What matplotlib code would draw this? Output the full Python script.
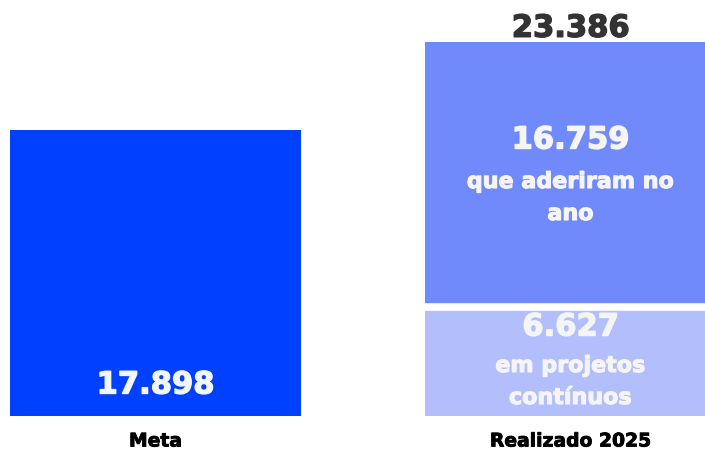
import matplotlib.pyplot as plt
import matplotlib.patheffects as pe

categorias = ['Meta', 'Realizado 2025']
meta = 17898
continuos = 6627
aderiram = 16759
total = continuos + aderiram

def fmt(v):
    return f'{v:,}'.replace(',', '.')

plt.rcParams['font.family'] = ['DejaVu Sans']

fig = plt.figure(figsize=(7.05, 4.53), dpi=100)
ax = fig.add_axes([0, 0, 1, 1])

w = 0.7
ax.bar(0, meta, width=w, color='#0040ff')
ax.bar(1, continuos, width=w, color='#b3bffc')
ax.bar(1, aderiram, width=w, bottom=continuos, color='#708afc')
# faixa branca entre os segmentos
ax.hlines(continuos + 220, 1 - w / 2, 1 + w / 2, color='white', linewidth=5.5)

px = 62.58  # unidades por pixel
ax.set_xlim(-0.3747, 1.324)
ax.set_ylim(-37 * px, 416 * px)
ax.axis('off')

def grosso(cor, lw=1.0):
    return [pe.Stroke(linewidth=lw, foreground=cor), pe.Normal()]

branco = '#f5f5f5'
ax.text(0, 31 * px, fmt(meta), ha='center', va='center', color=branco,
        fontsize=22, fontweight='bold', path_effects=grosso(branco))
ax.text(1, total + 14 * px, fmt(total), ha='center', va='center', color='#333333',
        fontsize=22, fontweight='bold', path_effects=grosso('#333333'))
ax.text(1, 276 * px, fmt(aderiram), ha='center', va='center', color=branco,
        fontsize=22, fontweight='bold', path_effects=grosso(branco))
ax.text(1, 218 * px, 'que aderiram no\nano', ha='center', va='center', color=branco,
        fontsize=16, fontweight='bold', linespacing=1.75, path_effects=grosso(branco, 0.8))
ax.text(1, 89 * px, fmt(continuos), ha='center', va='center', color=branco,
        fontsize=22, fontweight='bold', path_effects=grosso(branco))
ax.text(1, 34 * px, 'em projetos\ncontínuos', ha='center', va='center', color=branco,
        fontsize=16, fontweight='bold', linespacing=1.75, path_effects=grosso(branco, 0.8))

for i, c in enumerate(categorias):
    ax.text(i, -25 * px, c, ha='center', va='center', color='black',
            fontsize=13.5, fontweight='bold', path_effects=grosso('black', 0.6))

fig.savefig('out.png', dpi=100)
